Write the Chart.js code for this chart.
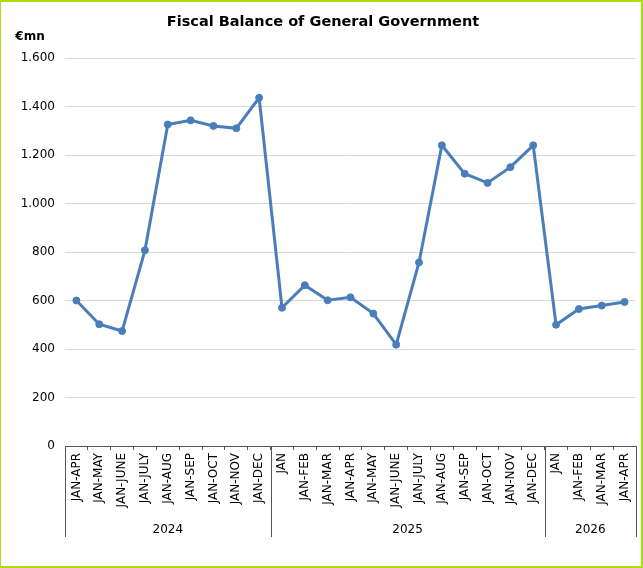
<!DOCTYPE html>
<html>
<head>
<meta charset="utf-8">
<script src="https://cdn.jsdelivr.net/npm/chart.js@4.4.1/dist/chart.umd.min.js"></script>
<style>
  html, body { margin: 0; padding: 0; background: #fff; }
  #wrap { position: relative; width: 643px; height: 568px; }
  #c { position: absolute; left: 0; top: 0; }
  #frame { position: absolute; left: 0; top: 0; width: 643px; height: 568px; box-sizing: border-box;
           border-style: solid; border-color: #addc12; border-width: 2px 2px 2px 1px; pointer-events: none; }
</style>
</head>
<body>
<div id="wrap">
  <canvas id="c" width="643" height="568"></canvas>
  <div id="frame"></div>
</div>
<script>
// ---- Data ----
const titleText = 'Fiscal Balance of General Government';
const unitLabel = '€mn';
const categories = [
  'JAN-APR','JAN-MAY','JAN-JUNE','JAN-JULY','JAN-AUG','JAN-SEP','JAN-OCT','JAN-NOV','JAN-DEC',
  'JAN','JAN-FEB','JAN-MAR','JAN-APR','JAN-MAY','JAN-JUNE','JAN-JULY','JAN-AUG','JAN-SEP','JAN-OCT','JAN-NOV','JAN-DEC',
  'JAN','JAN-FEB','JAN-MAR','JAN-APR'
];
const values = [
  600, 502, 474, 807, 1326, 1343, 1320, 1310, 1436,
  570, 663, 601, 613, 546, 418, 757, 1240, 1123, 1085, 1150, 1240,
  500, 565, 579, 594
];
const yearLabels = ['2024', '2025', '2026'];
const yearCounts = [9, 12, 4];
const yTicks = [0, 200, 400, 600, 800, 1000, 1200, 1400, 1600];

function fmt(v) {
  return String(v).replace(/\B(?=(\d{3})+(?!\d))/g, '.');
}

const FONT = "'DejaVu Sans', Verdana, sans-serif";

const decor = {
  id: 'decor',
  afterDraw(chart) {
    const ctx = chart.ctx;
    const xs = chart.scales.x;
    ctx.save();
    // Title
    ctx.fillStyle = '#000';
    ctx.font = 'bold 14.5px ' + FONT;
    ctx.textAlign = 'center';
    ctx.textBaseline = 'middle';
    ctx.fillText(titleText, 323, 22);
    // Unit
    ctx.font = 'bold 12px ' + FONT;
    ctx.textAlign = 'center';
    ctx.fillText(unitLabel, 30, 37);
    // Year groups
    const top = xs.top;
    const bottom = 537;
    ctx.strokeStyle = '#555';
    ctx.lineWidth = 1;
    ctx.font = '12px ' + FONT;
    ctx.textBaseline = 'middle';
    let start = 0;
    let leftX = xs.left;
    const drawSep = (x) => {
      const px = Math.round(x) + 0.5;
      ctx.beginPath(); ctx.moveTo(px, top); ctx.lineTo(px, bottom); ctx.stroke();
    };
    drawSep(leftX);
    yearCounts.forEach((n, gi) => {
      const end = start + n;
      let rightX;
      if (end >= categories.length) rightX = xs.right;
      else rightX = (xs.getPixelForTick(end - 1) + xs.getPixelForTick(end)) / 2;
      drawSep(rightX);
      ctx.fillStyle = '#000';
      ctx.textAlign = 'center';
      ctx.fillText(yearLabels[gi], (leftX + rightX) / 2, 530);
      leftX = rightX;
      start = end;
    });
    ctx.restore();
  }
};

new Chart(document.getElementById('c'), {
  type: 'line',
  data: {
    labels: categories,
    datasets: [{
      data: values,
      borderColor: '#4a7ebb',
      backgroundColor: '#4a7ebb',
      borderWidth: 3,
      pointRadius: 3.5,
      pointHoverRadius: 3.5,
      pointBorderWidth: 1,
      pointBackgroundColor: '#4a7ebb',
      pointBorderColor: '#4a7ebb',
      tension: 0,
      clip: false
    }]
  },
  options: {
    responsive: false,
    animation: false,
    devicePixelRatio: 1,
    layout: { padding: { top: 58, right: 7, left: 0, bottom: 0 } },
    plugins: { legend: { display: false }, title: { display: false }, tooltip: { enabled: false } },
    scales: {
      y: {
        min: 0, max: 1600,
        afterBuildTicks(scale) { scale.ticks = yTicks.map(v => ({ value: v })); },
        afterFit(scale) { scale.width = 65; },
        ticks: { color: '#000', font: { family: FONT, size: 12 }, padding: 10, callback: v => fmt(v) },
        grid: { color: '#d9d9d9', lineWidth: 1, drawTicks: false },
        border: { display: false }
      },
      x: {
        offset: true,
        afterFit(scale) { scale.height = 122; },
        ticks: { color: '#000', font: { family: FONT, size: 12 }, minRotation: 90, maxRotation: 90, padding: 3, autoSkip: false },
        grid: { display: true, drawOnChartArea: false, drawTicks: true, tickLength: 4, offset: true, color: '#555' },
        border: { display: true, color: '#555', width: 1 }
      }
    }
  },
  plugins: [decor]
});
</script>
</body>
</html>
